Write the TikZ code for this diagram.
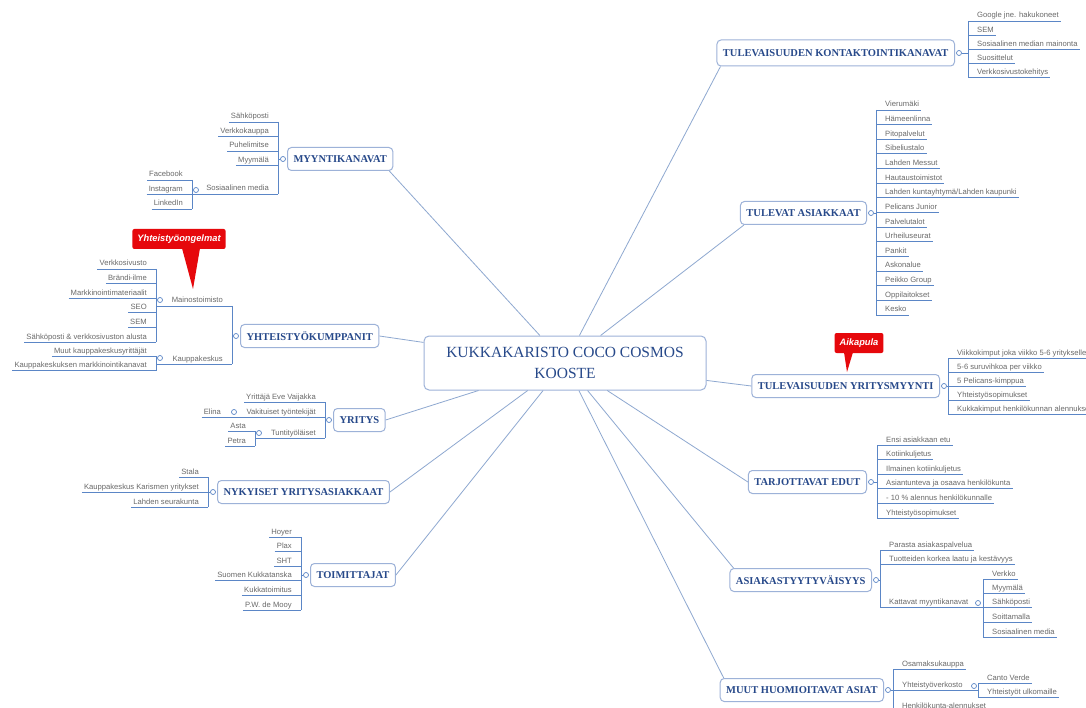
\documentclass[tikz,border=0pt]{standalone}
\usepackage{fontspec}
\setmainfont{Liberation Serif}
\newfontfamily\leaffamily{Liberation Sans}
\usetikzlibrary{calc}
\definecolor{topicblue}{HTML}{27498A}
\definecolor{boxline}{HTML}{9DB2D8}
\definecolor{branch}{HTML}{5B86C6}
\definecolor{spokeblue}{HTML}{8EA8D0}
\definecolor{leafgray}{HTML}{6A6A6A}
\definecolor{calloutred}{HTML}{E6080C}
\begin{document}
\begin{tikzpicture}[x=1pt,y=-1pt,
  central/.style={draw=boxline, line width=1pt, rounded corners=5pt, fill=white,
    minimum width=282pt, minimum height=54pt, align=center,
    font=\fontsize{15.5}{21}\selectfont, text=topicblue},
  topic/.style={draw=boxline, line width=1pt, rounded corners=4pt, fill=white,
    minimum height=23pt, inner xsep=6pt,
    font=\fontsize{10.5}{12}\selectfont\bfseries, text=topicblue},
  uline/.style={draw=branch, line width=0.9pt},
  leafbase/.style={inner xsep=2pt, inner ysep=1.2pt, text height=5.6pt, text depth=1.6pt,
    font=\leaffamily\fontsize{7.65}{9}\selectfont, text=leafgray,
    append after command={(\tikzlastnode.south west) edge[uline] (\tikzlastnode.south east)}},
  leafR/.style={leafbase, anchor=south west, execute at begin node={\hspace*{7pt}}},
  leafL/.style={leafbase, anchor=south east, execute at end node={\hspace*{7pt}}},
  spoke/.style={draw=spokeblue, line width=0.8pt},
  marker/.style={circle, draw=branch, fill=white, line width=0.7pt, inner sep=0pt, minimum size=5pt},
  callout/.style={fill=calloutred, rounded corners=2pt, text=white, minimum height=20pt,
    inner xsep=5pt, font=\leaffamily\fontsize{9.3}{11}\selectfont\bfseries\itshape}
]
\fill[white] (0,0) rectangle (1086,708);
\useasboundingbox (0,0) rectangle (1086,708);

% centre topic
\node[central] (ctr) at (565,363) {KUKKAKARISTO COCO COSMOS\\KOOSTE};

% main topics, right side
\node[topic, anchor=east, minimum height=26pt] (t1) at (955,53) {TULEVAISUUDEN KONTAKTOINTIKANAVAT};
\node[topic, anchor=east] (t2) at (867,213) {TULEVAT ASIAKKAAT};
\node[topic, anchor=east] (t3) at (940,386) {TULEVAISUUDEN YRITYSMYYNTI};
\node[topic, anchor=east] (t4) at (867,482) {TARJOTTAVAT EDUT};
\node[topic, anchor=east] (t5) at (872,580) {ASIAKASTYYTYVÄISYYS};
\node[topic, anchor=east] (t6) at (884,690) {MUUT HUOMIOITAVAT ASIAT};
% main topics, left side
\node[topic, anchor=west] (t7) at (287,159) {MYYNTIKANAVAT};
\node[topic, anchor=west] (t8) at (240,336) {YHTEISTYÖKUMPPANIT};
\node[topic, anchor=west] (t9) at (333,420) {YRITYS};
\node[topic, anchor=west] (t10) at (217,492) {NYKYISET YRITYSASIAKKAAT};
\node[topic, anchor=west] (t11) at (310,575) {TOIMITTAJAT};

% spokes from the centre to the near side of each topic
\foreach \t in {t1,t2}
  \draw[spoke] (ctr) -- ([xshift=4pt]\t.south west);
\foreach \t in {t3,t4}
  \draw[spoke] (ctr) -- (\t.west);
\foreach \t in {t5,t6}
  \draw[spoke] (ctr) -- ([xshift=4pt]\t.north west);
\draw[spoke] (ctr) -- ([xshift=-4pt]t7.south east);
\foreach \t in {t8,t9,t10,t11}
  \draw[spoke] (ctr) -- (\t.east);

% branch markers
\foreach \t/\m in {t1/m1,t2/m2,t3/m3,t4/m4,t5/m5,t6/m6}
  \node[marker] (\m) at ([xshift=4pt]\t.east) {};
\foreach \t/\m in {t7/m7,t8/m8,t9/m9,t10/m10,t11/m11}
  \node[marker] (\m) at ([xshift=-4pt]\t.west) {};

% --- Tulevaisuuden kontaktointikanavat
\node[leafR] (k1) at (968,21) {Google jne. hakukoneet};
\node[leafR] (k2) at (968,35.2) {SEM};
\node[leafR] (k3) at (968,49.4) {Sosiaalinen median mainonta};
\node[leafR] (k4) at (968,63.6) {Suosittelut};
\node[leafR] (k5) at (968,77.8) {Verkkosivustokehitys};
\draw[uline] (k1.south west) -- (k5.south west);
\draw[uline] (m1.east) -- (m1.east -| k1.south west);

% --- Tulevat asiakkaat
\node[leafR] (a1) at (876,110) {Vierumäki};
\node[leafR] (a2) at (876,124.6) {Hämeenlinna};
\node[leafR] (a3) at (876,139.3) {Pitopalvelut};
\node[leafR] (a4) at (876,153.9) {Sibeliustalo};
\node[leafR] (a5) at (876,168.6) {Lahden Messut};
\node[leafR] (a6) at (876,183.2) {Hautaustoimistot};
\node[leafR] (a7) at (876,197.8) {Lahden kuntayhtymä/Lahden kaupunki};
\node[leafR] (a8) at (876,212.5) {Pelicans Junior};
\node[leafR] (a9) at (876,227.1) {Palvelutalot};
\node[leafR] (a10) at (876,241.8) {Urheiluseurat};
\node[leafR] (a11) at (876,256.4) {Pankit};
\node[leafR] (a12) at (876,271.0) {Askonalue};
\node[leafR] (a13) at (876,285.7) {Peikko Group};
\node[leafR] (a14) at (876,300.3) {Oppilaitokset};
\node[leafR] (a15) at (876,315.0) {Kesko};
\draw[uline] (a1.south west) -- (a15.south west);
\draw[uline] (m2.east) -- (m2.east -| a1.south west);

% --- Tulevaisuuden yritysmyynti
\node[leafR] (b1) at (948,358) {Viikkokimput joka viikko 5-6 yritykselle};
\node[leafR] (b2) at (948,372) {5-6 suruvihkoa per viikko};
\node[leafR] (b3) at (948,386) {5 Pelicans-kimppua};
\node[leafR] (b4) at (948,400) {Yhteistyösopimukset};
\node[leafR] (b5) at (948,414) {Kukkakimput henkilökunnan alennuksella};
\draw[uline] (b1.south west) -- (b5.south west);
\draw[uline] (m3.east) -- (m3.east -| b1.south west);

% --- Tarjottavat edut
\node[leafR] (d1) at (877,445) {Ensi asiakkaan etu};
\node[leafR] (d2) at (877,459.6) {Kotiinkuljetus};
\node[leafR] (d3) at (877,474.2) {Ilmainen kotiinkuljetus};
\node[leafR] (d4) at (877,488.8) {Asiantunteva ja osaava henkilökunta};
\node[leafR] (d5) at (877,503.4) {- 10 \% alennus henkilökunnalle};
\node[leafR] (d6) at (877,518) {Yhteistyösopimukset};
\draw[uline] (d1.south west) -- (d6.south west);
\draw[uline] (m4.east) -- (m4.east -| d1.south west);

% --- Asiakastyytyväisyys
\node[leafR] (e1) at (880,550.5) {Parasta asiakaspalvelua};
\node[leafR] (e2) at (880,564.5) {Tuotteiden korkea laatu ja kestävyys};
\node[leafR] (e3) at (880,607.5) {Kattavat myyntikanavat};
\draw[uline] (e1.south west) -- (e3.south west);
\draw[uline] (m5.east) -- (m5.east -| e1.south west);
\node[leafR] (f1) at (983,579) {Verkko};
\node[leafR] (f2) at (983,593.5) {Myymälä};
\node[leafR] (f3) at (983,607.5) {Sähköposti};
\node[leafR] (f4) at (983,622.5) {Soittamalla};
\node[leafR] (f5) at (983,637) {Sosiaalinen media};
\draw[uline] (e3.south east) -- (e3.south east -| f1.south west);
\draw[uline] (f1.south west) -- (f5.south west);
\node[marker] (me3) at (978,603) {};

% --- Muut huomioitavat asiat
\node[leafR] (g1) at (893,669) {Osamaksukauppa};
\node[leafR] (g2) at (893,690) {Yhteistyöverkosto};
\node[leafR] (g3) at (893,711) {Henkilökunta-alennukset};
\draw[uline] (g1.south west) -- (g3.south west);
\draw[uline] (m6.east) -- (m6.east -| g1.south west);
\node[leafR] (h1) at (978,683) {Canto Verde};
\node[leafR] (h2) at (978,697) {Yhteistyöt ulkomaille};
\draw[uline] (g2.south east) -- (g2.south east -| h1.south west);
\draw[uline] (h1.south west) -- (h2.south west);
\node[marker] (mg2) at (974,686) {};

% --- Myyntikanavat
\node[leafL] (l1) at (278,122) {Sähköposti};
\node[leafL] (l2) at (278,136.5) {Verkkokauppa};
\node[leafL] (l3) at (278,151) {Puhelimitse};
\node[leafL] (l4) at (278,165.5) {Myymälä};
\node[leafL] (l5) at (278,194) {Sosiaalinen media};
\draw[uline] (l1.south east) -- (l5.south east);
\draw[uline] (m7.west) -- (m7.west -| l1.south east);
\node[leafL] (fb) at (192,180) {Facebook};
\node[leafL] (ig) at (192,194.5) {Instagram};
\node[leafL] (li) at (192,209) {LinkedIn};
\draw[uline] (l5.south west) -- (l5.south west -| fb.south east);
\draw[uline] (fb.south east) -- (li.south east);
\node[marker] (ml5) at (196,190) {};

% --- Yhteistyökumppanit
\node[leafL] (n1) at (232,306) {Mainostoimisto};
\node[leafL] (n2) at (232,364) {Kauppakeskus};
\draw[uline] (n1.south east) -- (n2.south east);
\draw[uline] (m8.west) -- (m8.west -| n1.south east);
\node[leafL] (o1) at (156,269) {Verkkosivusto};
\node[leafL] (o2) at (156,283.6) {Brändi-ilme};
\node[leafL] (o3) at (156,298.2) {Markkinointimateriaalit};
\node[leafL] (o4) at (156,312.8) {SEO};
\node[leafL] (o5) at (156,327.4) {SEM};
\node[leafL] (o6) at (156,342) {Sähköposti \& verkkosivuston alusta};
\draw[uline] (n1.south west) -- (n1.south west -| o1.south east);
\draw[uline] (o1.south east) -- (o6.south east);
\node[marker] (mn1) at (160,300) {};
\node[leafL] (p1) at (156,356) {Muut kauppakeskusyrittäjät};
\node[leafL] (p2) at (156,370.5) {Kauppakeskuksen markkinointikanavat};
\draw[uline] (n2.south west) -- (n2.south west -| p1.south east);
\draw[uline] (p1.south east) -- (p2.south east);
\node[marker] (mn2) at (160,358) {};

% --- Yritys
\node[leafL] (q1) at (325,402) {Yrittäjä Eve Vaijakka};
\node[leafL] (q2) at (325,417.5) {Vakituiset työntekijät};
\node[leafL] (q3) at (325,438) {Tuntityöläiset};
\draw[uline] (q1.south east) -- (q3.south east);
\draw[uline] (m9.west) -- (m9.west -| q1.south east);
\node[leafL] (r1) at (230,417.5) {Elina};
\draw[uline] (q2.south west) -- (r1.south east);
\node[marker] (mq2) at (234,412) {};
\node[leafL] (s1) at (255,431) {Asta};
\node[leafL] (s2) at (255,446) {Petra};
\draw[uline] (q3.south west) -- (q3.south west -| s1.south east);
\draw[uline] (s1.south east) -- (s2.south east);
\node[marker] (mq3) at (259,433) {};

% --- Nykyiset yritysasiakkaat
\node[leafL] (u1) at (208,477) {Stala};
\node[leafL] (u2) at (208,492) {Kauppakeskus Karismen yritykset};
\node[leafL] (u3) at (208,507) {Lahden seurakunta};
\draw[uline] (u1.south east) -- (u3.south east);
\draw[uline] (m10.west) -- (m10.west -| u1.south east);

% --- Toimittajat
\node[leafL] (v1) at (301,537) {Hoyer};
\node[leafL] (v2) at (301,551.6) {Plax};
\node[leafL] (v3) at (301,566.2) {SHT};
\node[leafL] (v4) at (301,580.8) {Suomen Kukkatanska};
\node[leafL] (v5) at (301,595.4) {Kukkatoimitus};
\node[leafL] (v6) at (301,610) {P.W. de Mooy};
\draw[uline] (v1.south east) -- (v6.south east);
\draw[uline] (m11.west) -- (m11.west -| v1.south east);

% --- callouts
\node[callout] (c1) at (179,239) {Yhteistyöongelmat};
\coordinate (c1tip) at (193,289);
\fill[calloutred] ([xshift=3pt,yshift=1pt]c1.south) -- ([xshift=21pt,yshift=1pt]c1.south) -- (c1tip) -- cycle;
\node[callout] (c2) at (859,343) {Aikapula};
\coordinate (c2tip) at (847,372);
\fill[calloutred] ([xshift=-15pt,yshift=1pt]c2.south) -- ([xshift=-6pt,yshift=1pt]c2.south) -- (c2tip) -- cycle;
\end{tikzpicture}
\end{document}
